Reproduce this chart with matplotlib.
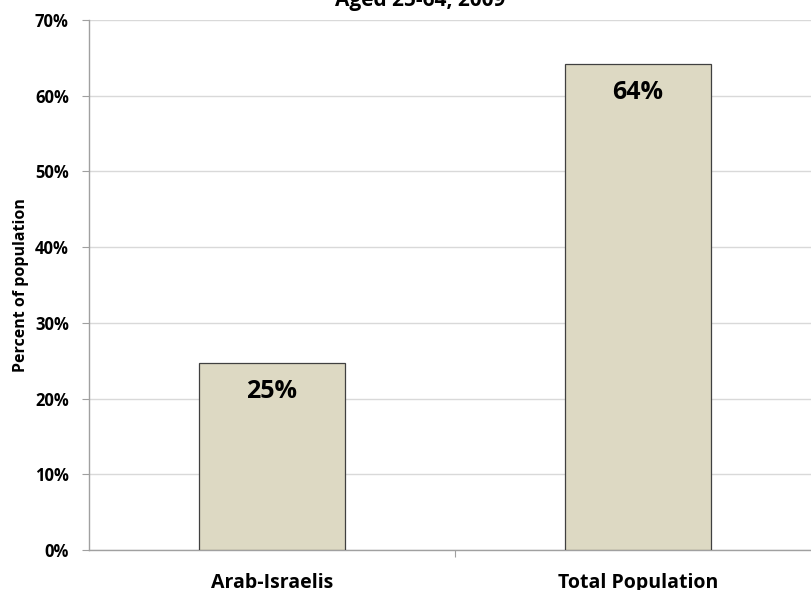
import matplotlib
matplotlib.use("Agg")
import matplotlib.pyplot as plt
from matplotlib.ticker import FuncFormatter, FixedLocator

categories = ["Arab-Israelis", "Total Population"]
values = [24.7, 64.2]
labels = ["25%", "64%"]
title = "Aged 25-64, 2009"
ylabel = "Percent of population"

plt.rcParams['font.family'] = ['Open Sans', 'DejaVu Sans']

W, H = 811, 590
fig = plt.figure(figsize=(W/100, H/100), dpi=100)
left, right = 89, 89 + 2*366
bottom, top = 550, 20
ax = fig.add_axes([left/W, 1 - bottom/H, (right-left)/W, (bottom-top)/H])

x = range(len(categories))
bars = ax.bar(x, values, width=0.40, color="#ddd9c3", edgecolor="#404040", linewidth=0.9, zorder=3)
for b, lab in zip(bars, labels):
    ax.text(b.get_x() + b.get_width()/2, b.get_height() - 4.65, lab, ha="center", va="baseline",
            fontsize=18, fontweight="bold", zorder=4)

ax.set_xlim(-0.5, 1.5)
ax.set_ylim(0, 70)
ax.yaxis.set_major_locator(FixedLocator(range(0, 71, 10)))
ax.yaxis.set_major_formatter(FuncFormatter(lambda v, p: f"{int(v)}%"))
ax.grid(axis="y", color="#d9d9d9", linewidth=1.0, zorder=0)
ax.set_axisbelow(True)

ax.set_xticks([0.5], minor=False)
ax.set_xticklabels([""])
ax.set_xticks(list(x), minor=True)
ax.set_xticklabels(categories, minor=True)
ax.tick_params(axis="x", which="minor", length=0, pad=16.5, labelsize=14)
ax.tick_params(axis="x", which="major", length=5, color="#a0a0a0", direction="out")
ax.tick_params(axis="y", length=5, color="#a0a0a0", direction="out", labelsize=12, pad=9.5)
for t in ax.get_xticklabels(minor=True):
    t.set_fontweight("bold")
for t in ax.get_yticklabels():
    t.set_fontweight("bold")

for s in ["top", "right"]:
    ax.spines[s].set_visible(False)
for s in ["left", "bottom"]:
    ax.spines[s].set_color("#a0a0a0")
    ax.spines[s].set_linewidth(1.0)

ax.set_ylabel(ylabel, fontsize=11.5, fontweight="bold", labelpad=4)

fig.text(420/W, 1 - 6/H, title, ha="center", va="baseline", fontsize=15, fontweight="bold")

fig.savefig("out.png", dpi=100)
